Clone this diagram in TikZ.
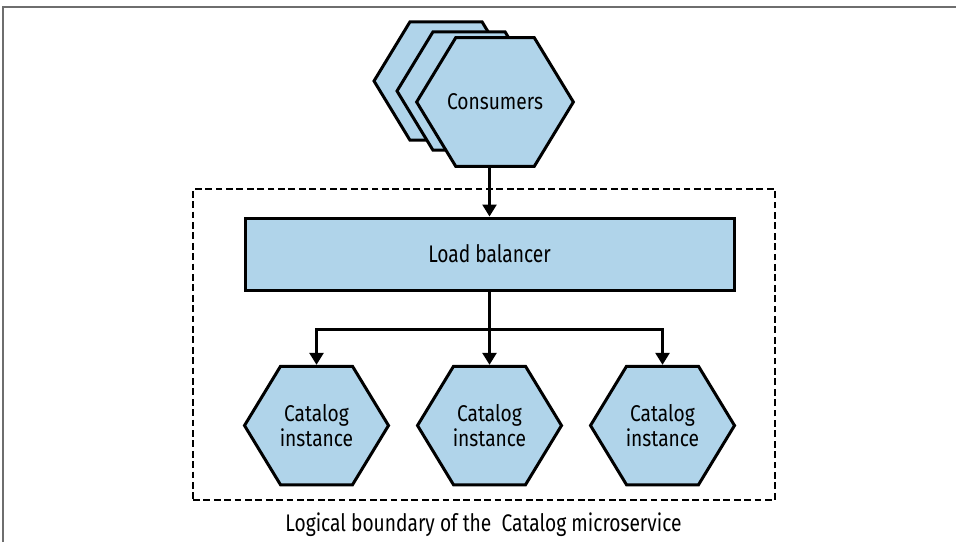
\documentclass[tikz,border=0pt]{standalone}
\usepackage{fontspec}
\setmainfont{Fira Sans}[FakeStretch=0.8]
\usetikzlibrary{positioning,arrows.meta,shapes.geometric,calc}
\definecolor{paleblue}{RGB}{176,212,234}
\definecolor{framegray}{RGB}{110,110,110}

\tikzset{
  hexnode/.style={regular polygon, regular polygon sides=6, minimum size=72pt,
    inner sep=0pt, fill=paleblue, draw=black, line width=1.5pt,
    yscale=0.95, transform shape, align=center,
    font=\fontsize{12}{13}\selectfont},
  lbbox/.style={rectangle, minimum width=244.5pt, minimum height=36pt,
    fill=paleblue, draw=black, line width=1.5pt,
    font=\fontsize{12}{13}\selectfont},
  boundary/.style={rectangle, draw=black, line width=1.4pt,
    dash pattern=on 3.4pt off 1.8pt, inner sep=0pt,
    minimum width=291pt, minimum height=155.5pt},
  caption/.style={font=\fontsize{12}{13}\selectfont, inner sep=0pt},
  flow/.style={-{Triangle[width=7pt,length=6pt]}, line width=1.3pt}
}

\begin{document}
\begin{tikzpicture}[x=0.5pt,y=-0.5pt]
  \useasboundingbox (0,0) rectangle (956,542);
  % page frame, top and left only
  \draw[framegray,line width=1pt] (3,542) -- (3,6.5) -- (956,6.5);

  \node[boundary] (boundary) at (484,344.5) {};

  % consumers, back to front
  \node[hexnode] (cons3) at (446,81) {};
  \node[hexnode] (cons2) at (469,91) {};
  \node[hexnode] (cons1) at (495,102) {Consumers};

  \node[lbbox] (lb) at (489.5,254) {Load balancer};

  \node[hexnode] (cat1) at (316.5,425.5) {Catalog\\instance};
  \node[hexnode] (cat2) at (489.5,425.5) {Catalog\\instance};
  \node[hexnode] (cat3) at (662.5,425.5) {Catalog\\instance};

  \node[caption, anchor=base] (caption) at (483.5,531)
    {Logical boundary of the~~Catalog microservice};

  \coordinate (fork) at ($(lb.south)+(0,38)$);
  \draw[flow] (lb.north |- cons1.south) -- (lb.north);
  \draw[flow] (lb.south) -- (cat2.north);
  \draw[flow] (fork) -| (cat1.north);
  \draw[flow] (fork) -| (cat3.north);
\end{tikzpicture}
\end{document}
